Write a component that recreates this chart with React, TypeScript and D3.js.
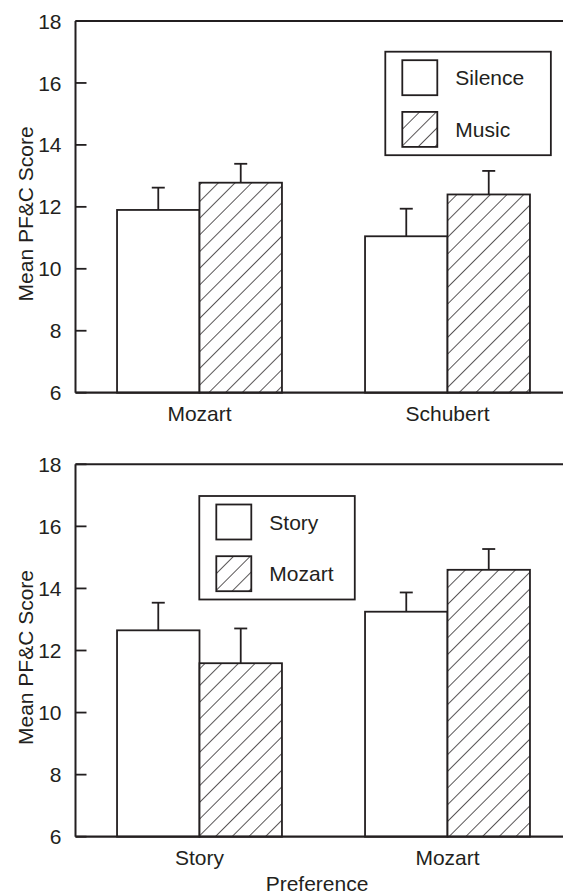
import * as d3 from "d3"

// top panel: music condition
const topGroups = ["Mozart", "Schubert"]
const topSeries = ["Silence", "Music"]
const topSilence = [11.9, 11.05]
const topSilenceSE = [0.72, 0.89]
const topMusic = [12.78, 12.4]
const topMusicSE = [0.61, 0.76]

// bottom panel: preference
const bottomGroups = ["Story", "Mozart"]
const bottomSeries = ["Story", "Mozart"]
const bottomStory = [12.65, 13.25]
const bottomStorySE = [0.89, 0.62]
const bottomMozart = [11.59, 14.6]
const bottomMozartSE = [1.12, 0.67]

const yTicks = [6, 8, 10, 12, 14, 16, 18]
const yLabel = "Mean PF&C Score"
const xLabel = "Preference"

const W = 563
const H = 895
const INK = "#231f20"
const FONT = "'Liberation Sans', Arial, Helvetica, sans-serif"
const FS = 21

function Panel({ top, bottom, groups, series, values, errors, legendX, legendY, title }) {
  const axisX = 75.5
  const y = d3.scaleLinear().domain([6, 18]).range([bottom, top])
  const x = d3
    .scaleBand()
    .domain(groups)
    .range([axisX, 571.5])
    .paddingInner(0.335)
    .paddingOuter(0.1675)
  const sub = d3.scaleBand().domain(series).range([0, x.bandwidth()])

  // legend width follows the longest label (rough Arial metrics)
  const longest = d3.max(series, (s) => s.length * 0.48 * FS)
  const legendW = 95 + longest
  const legendH = 103.5

  return (
    <g>
      {/* bars with one-sided error bars */}
      {groups.map((g, gi) =>
        series.map((s, si) => {
          const bx = x(g) + sub(s)
          const by = y(values[si][gi])
          const cx = bx + sub.bandwidth() / 2
          const ey = y(values[si][gi] + errors[si][gi])
          return (
            <g key={g + s}>
              <line x1={cx} x2={cx} y1={by} y2={ey} stroke={INK} strokeWidth={1.8} />
              <line x1={cx - 6.5} x2={cx + 6.5} y1={ey} y2={ey} stroke={INK} strokeWidth={1.8} />
              <rect
                x={bx}
                y={by}
                width={sub.bandwidth()}
                height={bottom - by}
                fill={si === 0 ? "#fff" : "url(#hatch)"}
                stroke={INK}
                strokeWidth={1.8}
              />
            </g>
          )
        })
      )}

      {/* axes */}
      <line x1={axisX} x2={W} y1={top} y2={top} stroke={INK} strokeWidth={2} />
      <line x1={axisX} x2={W} y1={bottom} y2={bottom} stroke={INK} strokeWidth={2.2} />
      <line x1={axisX} x2={axisX} y1={top} y2={bottom} stroke={INK} strokeWidth={2} />
      {yTicks.map((t) => (
        <g key={t}>
          <line x1={axisX} x2={axisX + 11} y1={y(t)} y2={y(t)} stroke={INK} strokeWidth={1.8} />
          <text x={axisX - 14} y={y(t)} dy="0.36em" textAnchor="end" fontSize={FS} fill={INK}>
            {t}
          </text>
        </g>
      ))}
      {groups.map((g) => (
        <text
          key={g}
          x={x(g) + x.bandwidth() / 2}
          y={bottom + 28.5}
          textAnchor="middle"
          fontSize={FS}
          fill={INK}
        >
          {g}
        </text>
      ))}
      <text
        transform={`translate(33,${(top + bottom) / 2 + 7}) rotate(-90)`}
        textAnchor="middle"
        fontSize={FS}
        fill={INK}
      >
        {yLabel}
      </text>
      {title && (
        <text x={317} y={bottom + 54} textAnchor="middle" fontSize={FS} fill={INK}>
          {title}
        </text>
      )}

      {/* legend */}
      <g transform={`translate(${legendX},${legendY})`}>
        <rect x={0} y={0} width={legendW} height={legendH} fill="#fff" stroke={INK} strokeWidth={1.8} />
        {series.map((s, si) => (
          <g key={s} transform={`translate(17,${8.5 + si * 51.7})`}>
            <rect
              width={35}
              height={35}
              fill={si === 0 ? "#fff" : "url(#hatch)"}
              stroke={INK}
              strokeWidth={1.8}
            />
            <text x={53} y={17.5} dy="0.36em" fontSize={FS} fill={INK}>
              {s}
            </text>
          </g>
        ))}
      </g>
    </g>
  )
}

export default function App() {
  return (
    <div style={{ position: "absolute", left: 0, top: 0, width: W, height: H, background: "#fff" }}>
      <svg width={W} height={H} style={{ display: "block", fontFamily: FONT }}>
        <defs>
          <pattern
            id="hatch"
            patternUnits="userSpaceOnUse"
            width={11.8}
            height={11.8}
            patternTransform="rotate(45)"
          >
            <rect width={11.8} height={11.8} fill="#fff" />
            <line x1={0} x2={0} y1={0} y2={11.8} stroke={INK} strokeWidth={1.5} />
          </pattern>
        </defs>
        <rect width={W} height={H} fill="#fff" />
        <Panel
          top={21}
          bottom={392.7}
          groups={topGroups}
          series={topSeries}
          values={[topSilence, topMusic]}
          errors={[topSilenceSE, topMusicSE]}
          legendX={385.3}
          legendY={51.7}
        />
        <Panel
          top={464.3}
          bottom={836.7}
          groups={bottomGroups}
          series={bottomSeries}
          values={[bottomStory, bottomMozart]}
          errors={[bottomStorySE, bottomMozartSE]}
          legendX={199.3}
          legendY={496}
          title={xLabel}
        />
      </svg>
    </div>
  )
}
